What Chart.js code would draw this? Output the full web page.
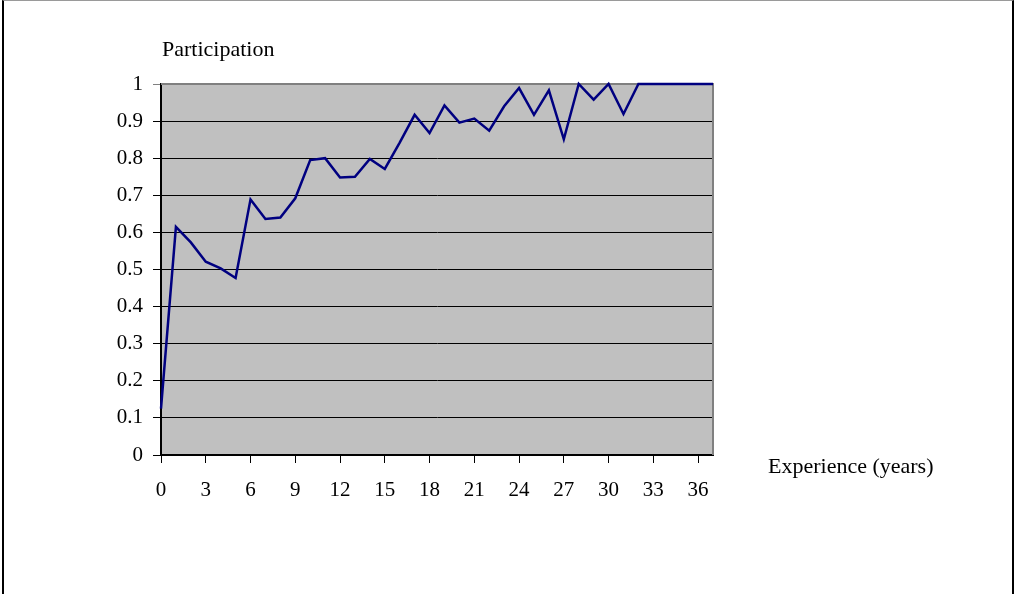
<!DOCTYPE html>
<html>
<head>
<meta charset="utf-8">
<script src="https://cdn.jsdelivr.net/npm/chart.js@4"></script>
<style>
  html, body { margin: 0; padding: 0; background: #fff; }
  #wrap { position: relative; width: 1014px; height: 594px; overflow: hidden; }
  #frame {
    position: absolute; left: 2px; top: 0; width: 1008px; height: 620px;
    border-top: 1px solid #9a9a9a; border-left: 2px solid #000; border-right: 2px solid #000;
    pointer-events: none;
  }
  canvas { position: absolute; left: 0; top: 0; }
</style>
</head>
<body>
<div id="wrap">
  <canvas id="chart" width="1014" height="594"></canvas>
  <div id="frame"></div>
</div>
<script>
// years of experience
const experience = [0, 1, 2, 3, 4, 5, 6, 7, 8, 9, 10, 11, 12, 13, 14, 15, 16, 17, 18, 19,
  20, 21, 22, 23, 24, 25, 26, 27, 28, 29, 30, 31, 32, 33, 34, 35, 36, 37];
// participation rate
const participation = [0.125, 0.615, 0.573, 0.521, 0.503, 0.477, 0.689, 0.636, 0.640, 0.692,
  0.795, 0.800, 0.748, 0.750, 0.798, 0.771, 0.842, 0.917, 0.868, 0.942,
  0.896, 0.907, 0.874, 0.940, 0.989, 0.917, 0.983, 0.851, 1.0, 0.958,
  1.0, 0.919, 1.0, 1.0, 1.0, 1.0, 1.0, 1.0];

const xTicks = [0, 3, 6, 9, 12, 15, 18, 21, 24, 27, 30, 33, 36];
const yTicks = [0, 0.1, 0.2, 0.3, 0.4, 0.5, 0.6, 0.7, 0.8, 0.9, 1];
const yTickLabels = ["0", "0.1", "0.2", "0.3", "0.4", "0.5", "0.6", "0.7", "0.8", "0.9", "1"];

const FONT = "'Liberation Serif', 'Times New Roman', serif";
const FONT_SIZE = 21;

// серый фон области графика и рамка сверху/справа
const plotArea = {
  id: "plotArea",
  beforeDraw(chart) {
    const { ctx, chartArea: a } = chart;
    ctx.save();
    ctx.fillStyle = "#c0c0c0";
    ctx.fillRect(a.left, a.top, a.right - a.left, a.bottom - a.top);
    ctx.restore();
  },
  beforeDatasetsDraw(chart) {
    const { ctx, chartArea: a } = chart;
    ctx.save();
    ctx.strokeStyle = "#808080";
    ctx.lineWidth = 2;
    ctx.beginPath();
    ctx.moveTo(a.left, a.top);
    ctx.lineTo(a.right, a.top);
    ctx.lineTo(a.right, a.bottom);
    ctx.stroke();
    ctx.restore();
  },
  afterDraw(chart) {
    const { ctx } = chart;
    ctx.save();
    ctx.fillStyle = "#000";
    ctx.font = "22px " + FONT;
    ctx.textBaseline = "middle";
    ctx.textAlign = "left";
    ctx.fillText("Participation", 162, 50);
    ctx.fillText("Experience (years)", 768, 467);
    ctx.restore();
  }
};

const points = experience.map((x, i) => ({ x: x, y: participation[i] }));

new Chart(document.getElementById("chart"), {
  type: "line",
  data: {
    datasets: [{
      label: "Participation",
      data: points,
      borderColor: "#000080",
      borderWidth: 2.5,
      pointRadius: 0,
      tension: 0,
      fill: false,
      clip: 4
    }]
  },
  options: {
    responsive: false,
    animation: false,
    layout: { padding: { left: 0, right: 301, top: 84, bottom: 0 } },
    plugins: { legend: { display: false }, tooltip: { enabled: false } },
    scales: {
      x: {
        type: "linear",
        min: 0,
        max: 37,
        afterBuildTicks(axis) { axis.ticks = xTicks.map(v => ({ value: v })); },
        afterFit(axis) { axis.height = 139; },
        grid: { drawOnChartArea: false, drawTicks: true, tickLength: 8, color: "#000", lineWidth: 1 },
        border: { display: true, color: "#000", width: 2 },
        ticks: { color: "#000", font: { family: FONT, size: FONT_SIZE }, padding: 15, maxRotation: 0 }
      },
      y: {
        type: "linear",
        min: 0,
        max: 1,
        afterBuildTicks(axis) { axis.ticks = yTicks.map(v => ({ value: v })); },
        afterFit(axis) { axis.width = 161; },
        grid: {
          drawOnChartArea: true, drawTicks: true, tickLength: 8, lineWidth: 1,
          color: (c) => (c.tick && c.tick.value === 1 ? "#808080" : "#000")
        },
        border: { display: true, color: "#000", width: 2 },
        ticks: {
          color: "#000", font: { family: FONT, size: FONT_SIZE }, padding: 10,
          callback: (v) => yTickLabels[yTicks.indexOf(v)] ?? ""
        }
      }
    }
  },
  plugins: [plotArea]
});
</script>
</body>
</html>
